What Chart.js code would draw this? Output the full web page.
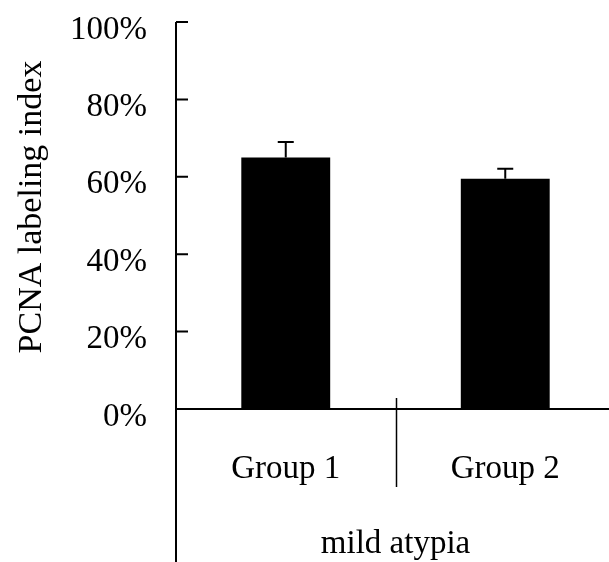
<!DOCTYPE html>
<html><head><meta charset="utf-8">
<script src="https://cdn.jsdelivr.net/npm/chart.js@4.4.1/dist/chart.umd.min.js"></script>
<style>
html,body{margin:0;padding:0;overflow:hidden;background:#fff;width:609px;height:562px}
#wrap{position:absolute;left:0;top:0;width:620px;height:562px}
</style>
</head><body><div id="wrap"><canvas id="c" width="620" height="562"></canvas></div>
<script>
const categories = ['Group 1', 'Group 2'];
const groupLabel = 'mild atypia';
const values = [65.0, 59.5];
const errors = [4.0, 2.6];
const yTicks = [0, 20, 40, 60, 80, 100];
const yTitle = 'PCNA labeling index';

const FONT = 'Liberation Serif, Times New Roman, serif';

const errorBars = {
  id: 'errorBars',
  afterDatasetsDraw(chart) {
    const { ctx, scales: { y } } = chart;
    const meta = chart.getDatasetMeta(0);
    ctx.save();
    ctx.strokeStyle = '#000';
    ctx.lineWidth = 2;
    meta.data.forEach((bar, i) => {
      const px = bar.x;
      const y0 = y.getPixelForValue(values[i]);
      const y1 = y.getPixelForValue(values[i] + errors[i]);
      ctx.beginPath();
      ctx.moveTo(px, y0);
      ctx.lineTo(px, y1);
      ctx.moveTo(px - 8, y1);
      ctx.lineTo(px + 8, y1);
      ctx.stroke();
    });
    ctx.restore();
  }
};

const axesFrame = {
  id: 'axesFrame',
  afterDraw(chart) {
    const { ctx, chartArea: a, scales: { x, y } } = chart;
    ctx.save();
    ctx.strokeStyle = '#000';
    ctx.lineWidth = 2;
    ctx.beginPath();
    ctx.moveTo(a.left, a.top);
    ctx.lineTo(a.left, chart.height);
    ctx.moveTo(a.left, a.bottom);
    ctx.lineTo(a.right, a.bottom);
    y.ticks.forEach(t => {
      const py = y.getPixelForValue(t.value);
      ctx.moveTo(a.left, py);
      ctx.lineTo(a.left + 12, py);
    });
    ctx.stroke();
    ctx.lineWidth = 1.5;
    ctx.beginPath();
    for (let i = 0; i < categories.length - 1; i++) {
      const px = Math.round(x.getPixelForValue(i + 0.5)) + 0.5;
      ctx.moveTo(px, a.bottom - 11);
      ctx.lineTo(px, a.bottom + 78);
    }
    ctx.stroke();
    ctx.restore();
  }
};

new Chart(document.getElementById('c'), {
  type: 'bar',
  data: {
    labels: categories,
    datasets: [{
      data: values,
      backgroundColor: '#000',
      borderWidth: 0,
      barPercentage: 0.405,
      categoryPercentage: 1
    }]
  },
  options: {
    responsive: false,
    animation: false,
    devicePixelRatio: 1,
    layout: { padding: { top: 22, right: 5, bottom: 0, left: 0 } },
    plugins: { legend: { display: false }, tooltip: { enabled: false } },
    scales: {
      x: {
        type: 'category',
        offset: true,
        grid: { display: false, drawTicks: false },
        border: { display: false },
        ticks: { font: { family: FONT, size: 33 }, color: '#000', padding: 41, maxRotation: 0, autoSkip: false },
        title: { display: true, text: groupLabel, font: { family: FONT, size: 33, lineHeight: 1.1 }, color: '#000', padding: 0 },
        afterFit: s => { s.height = 153; s.paddingLeft = 0; s.paddingRight = 0; }
      },
      y: {
        min: 0,
        max: 100,
        afterBuildTicks: s => { s.ticks = yTicks.map(v => ({ value: v })); },
        grid: { display: false, drawTicks: false },
        border: { display: false },
        ticks: { callback: v => v + '%', font: { family: FONT, size: 33 }, color: '#000', padding: 29, labelOffset: 8 },
        title: { display: true, text: '\u2002' + yTitle, font: { family: FONT, size: 34 }, color: '#000', padding: { top: 12, bottom: 0 } },
        afterFit: s => { s.width = 176; s.paddingTop = 0; s.paddingBottom = 0; }
      }
    }
  },
  plugins: [errorBars, axesFrame]
});
</script>
</body></html>
